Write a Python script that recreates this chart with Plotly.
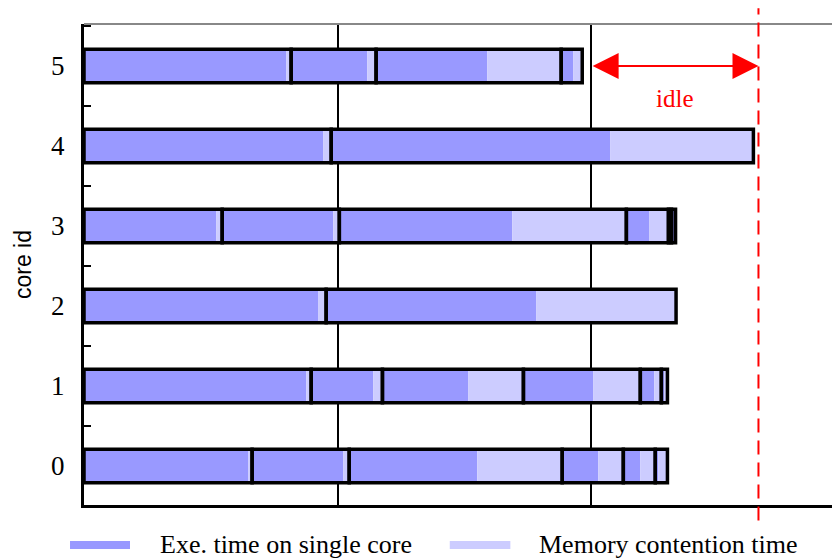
import plotly.graph_objects as go

# Per-core task schedule: each task = execution time on a single core
# followed by the extra time spent in memory contention.
cores = [0, 1, 2, 3, 4, 5]

core0_exe = [0.647, 0.359, 0.505, 0.142, 0.067, 0.012]
core0_mem = [0.016, 0.024, 0.335, 0.099, 0.059, 0.036]

core1_exe = [0.876, 0.245, 0.339, 0.276, 0.055, 0.012]
core1_mem = [0.020, 0.036, 0.217, 0.185, 0.028, 0.012]

core2_exe = [0.923, 0.828]
core2_mem = [0.032, 0.552]

core3_exe = [0.521, 0.438, 0.682, 0.091, 0.008, 0.012]
core3_mem = [0.024, 0.024, 0.450, 0.075, 0.004, 0.004]

core4_exe = [0.943, 1.101]
core4_mem = [0.032, 0.564]

core5_exe = [0.797, 0.300, 0.438, 0.047]
core5_mem = [0.020, 0.035, 0.292, 0.036]

idle_start = 2.0
deadline = 2.66

legend_labels = ["Exe. time on single core", "Memory contention time"]

EXE_COLOR = "#9999ff"
MEM_COLOR = "#ccccff"
SERIF = "Liberation Serif, Times New Roman, serif"
SANS = "Liberation Sans, Arial, sans-serif"
BAR_W = 0.42

schedule = {
    0: (core0_exe, core0_mem),
    1: (core1_exe, core1_mem),
    2: (core2_exe, core2_mem),
    3: (core3_exe, core3_mem),
    4: (core4_exe, core4_mem),
    5: (core5_exe, core5_mem),
}

fig = go.Figure()

fill_traces = []
outline_traces = []
for core in cores:
    exe, mem = schedule[core]
    start = 0.0
    for e, m in zip(exe, mem):
        fill_traces.append(go.Bar(
            orientation="h", y=[core], x=[e], base=[start], width=BAR_W,
            marker=dict(color=EXE_COLOR, line=dict(width=0)),
            showlegend=False, hoverinfo="skip"))
        fill_traces.append(go.Bar(
            orientation="h", y=[core], x=[m], base=[start + e], width=BAR_W,
            marker=dict(color=MEM_COLOR, line=dict(width=0)),
            showlegend=False, hoverinfo="skip"))
        outline_traces.append(go.Bar(
            orientation="h", y=[core], x=[e + m], base=[start], width=BAR_W,
            marker=dict(color="rgba(0,0,0,0)", line=dict(color="black", width=3.5)),
            showlegend=False, hoverinfo="skip"))
        start += e + m

for t in fill_traces + outline_traces:
    fig.add_trace(t)

fig.update_layout(
    width=832, height=558,
    margin=dict(l=84, r=0, t=24, b=53),
    barmode="overlay",
    plot_bgcolor="white", paper_bgcolor="white",
    showlegend=False,
    font=dict(family=SERIF, size=26, color="black"),
)

fig.update_xaxes(
    range=[0, 2.95],
    showline=True, linecolor="black", linewidth=3,
    showgrid=True, gridcolor="black", gridwidth=2,
    tickvals=[1, 2], showticklabels=False, ticks="",
    zeroline=False,
)

fig.update_yaxes(
    range=[-0.4875, 5.525],
    showline=True, linecolor="black", linewidth=3,
    showgrid=False, zeroline=False,
    tickvals=cores, ticktext=[str(c) for c in cores],
    ticks="", ticklabelstandoff=11,
    tickfont=dict(family=SERIF, size=27),
    minor=dict(tick0=0.5, dtick=1, ticks="inside", ticklen=7,
               tickwidth=2, tickcolor="black", showgrid=False),
    title=dict(text="core id", font=dict(family=SANS, size=23), standoff=14),
)

# top frame edge
fig.add_shape(type="line", xref="paper", yref="paper", x0=0, x1=1, y0=1, y1=1,
              line=dict(color="#888888", width=2))

# deadline marker
fig.add_shape(type="line", xref="x", yref="paper", x0=deadline, x1=deadline,
              y0=-0.032, y1=1.033, line=dict(color="red", width=2, dash="14px,8px"))

# idle interval arrow
fig.add_annotation(x=deadline, y=5, ax=idle_start, ay=5, xref="x", yref="y",
                   axref="x", ayref="y", text="", showarrow=True,
                   arrowside="end+start", arrowhead=2, startarrowhead=2,
                   arrowsize=2.6, startarrowsize=2.6, arrowwidth=2, arrowcolor="red")
fig.add_annotation(x=(idle_start + deadline) / 2, y=4.6, xref="x", yref="y",
                   text="idle", showarrow=False,
                   font=dict(family=SERIF, size=25, color="red"))

# legend keys
legend_colors = [EXE_COLOR, MEM_COLOR]
key_x = [(-0.0187, 0.0615), (0.489, 0.570)]
label_x = [0.099, 0.6056]
for (x0, x1), lx, col, lab in zip(key_x, label_x, legend_colors, legend_labels):
    fig.add_shape(type="line", xref="paper", yref="paper", x0=x0, x1=x1,
                  y0=-0.083, y1=-0.083, line=dict(color=col, width=8))
    fig.add_annotation(x=lx, y=-0.083, xref="paper", yref="paper", text=lab,
                       showarrow=False, xanchor="left", yanchor="middle",
                       font=dict(family=SERIF, size=26, color="black"))

fig.write_html("out.html")
